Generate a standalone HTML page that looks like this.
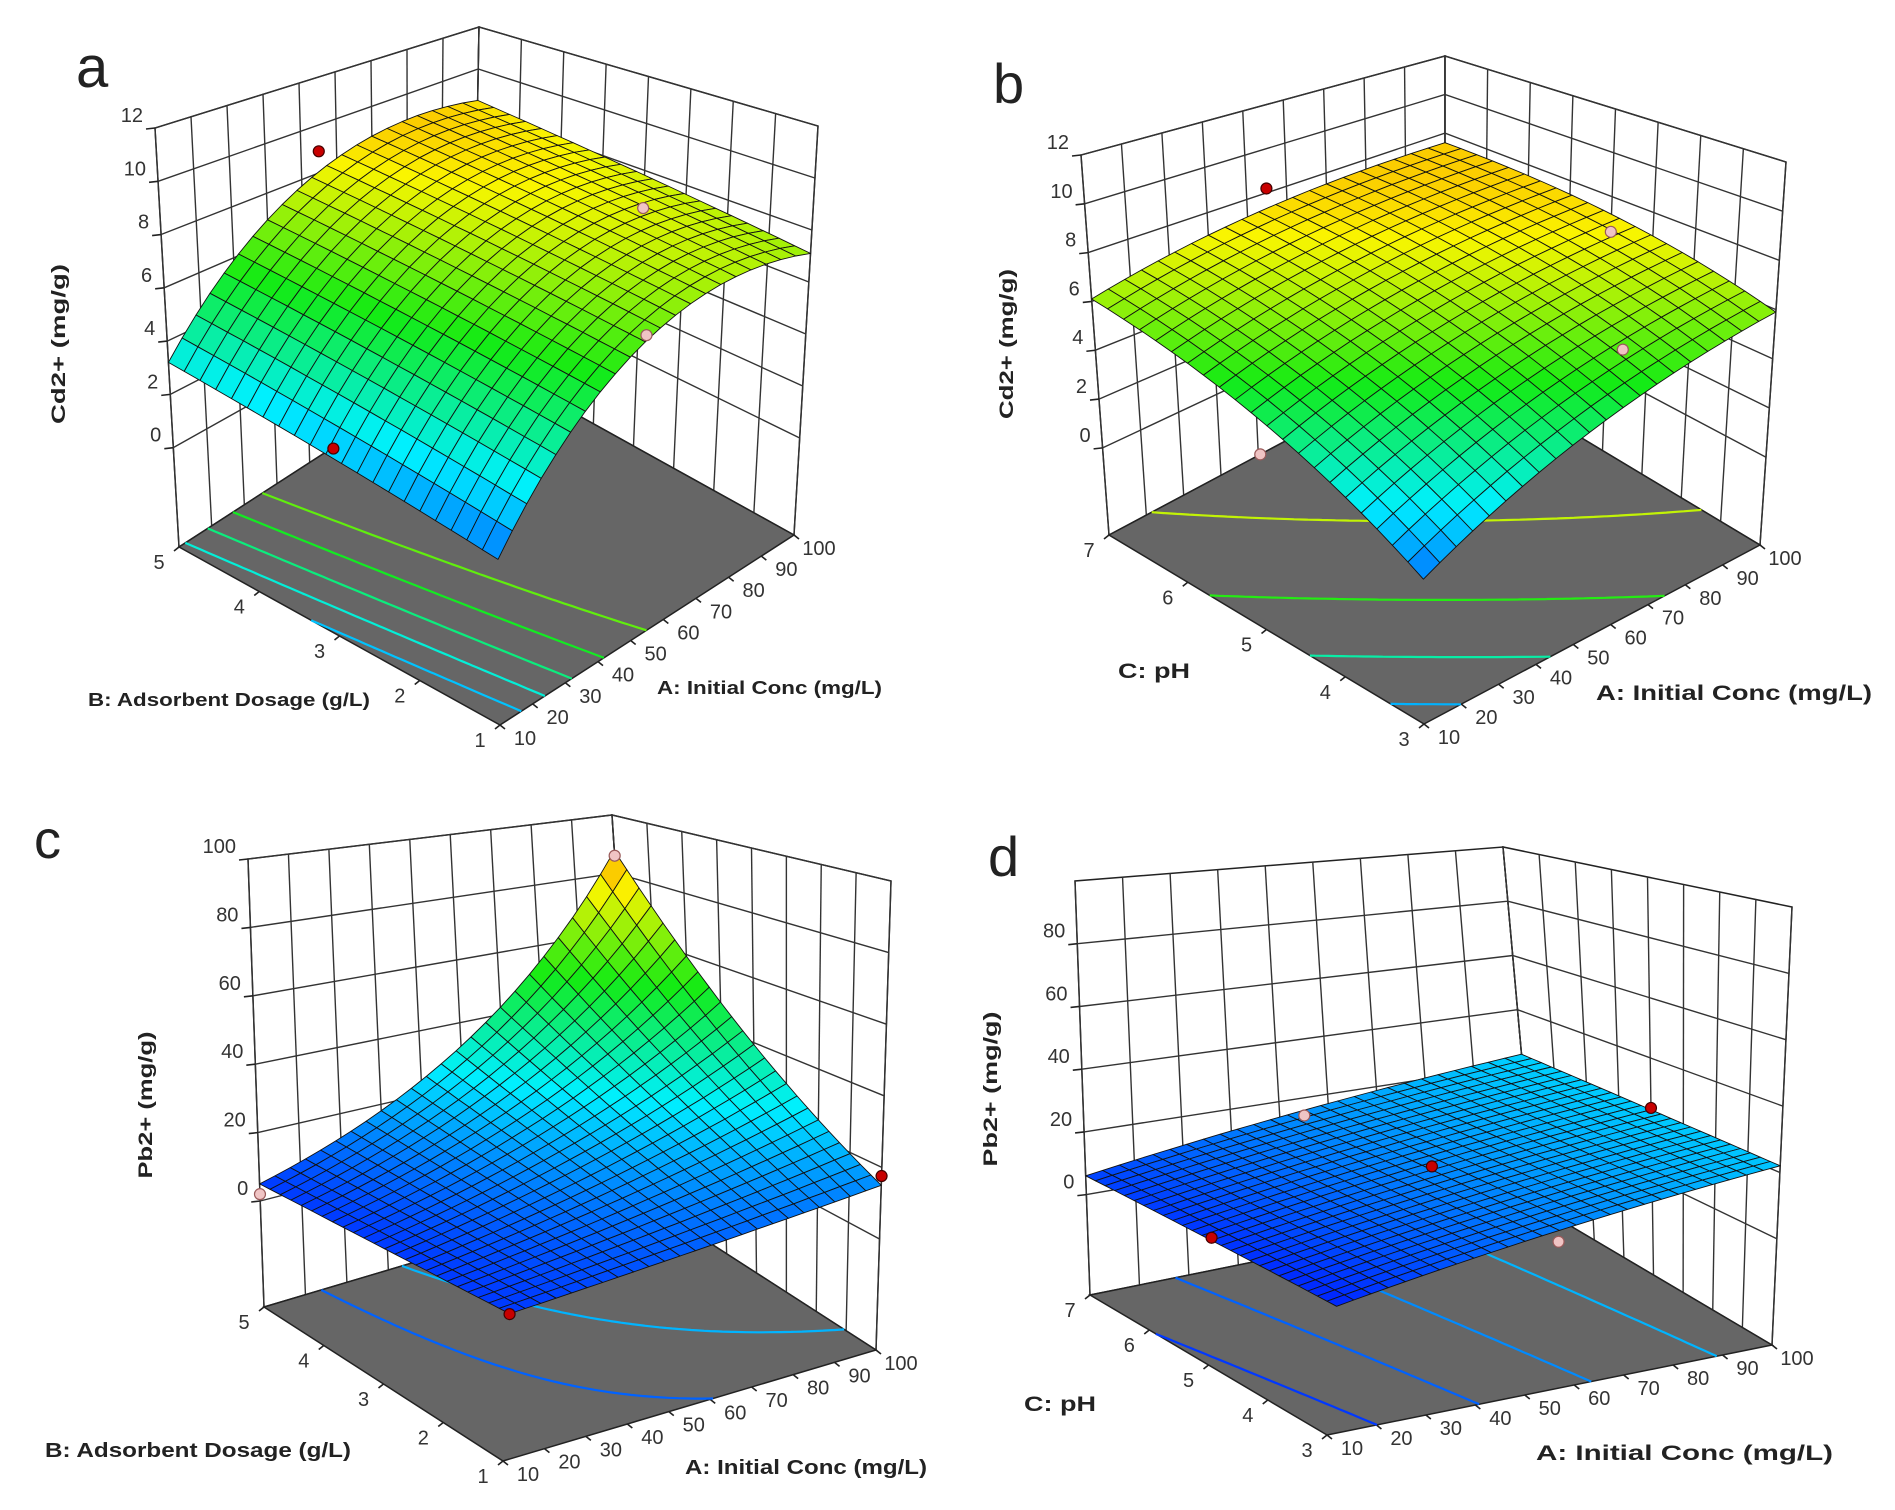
<!DOCTYPE html>
<html><head><meta charset="utf-8"><title>Response surface plots</title>
<style>
html,body{margin:0;padding:0;background:#fff;}
svg{display:block;font-family:"Liberation Sans",Arial,sans-serif;}
</style></head>
<body>
<svg id="chart" xmlns="http://www.w3.org/2000/svg" width="1895" height="1510" viewBox="0 0 1895 1510">
<rect x="0" y="0" width="1895" height="1510" fill="#fff"/>
<g id="layer"></g>
<g fill="#222">
<text x="76" y="87" font-size="58">a</text>
<text x="993" y="103" font-size="56">b</text>
<text x="34" y="858" font-size="54">c</text>
<text x="988" y="876" font-size="56">d</text>

<text transform="translate(65,344) rotate(-90)" text-anchor="middle" font-size="19" font-weight="bold" textLength="160" lengthAdjust="spacingAndGlyphs">Cd2+ (mg/g)</text>
<text x="88" y="706" font-size="18" font-weight="bold" textLength="282" lengthAdjust="spacingAndGlyphs">B: Adsorbent Dosage (g/L)</text>
<text x="657" y="694" font-size="18" font-weight="bold" textLength="225" lengthAdjust="spacingAndGlyphs">A: Initial Conc (mg/L)</text>

<text transform="translate(1013,344) rotate(-90)" text-anchor="middle" font-size="19" font-weight="bold" textLength="150" lengthAdjust="spacingAndGlyphs">Cd2+ (mg/g)</text>
<text x="1118" y="678" font-size="21" font-weight="bold" textLength="72" lengthAdjust="spacingAndGlyphs">C: pH</text>
<text x="1596" y="700" font-size="21" font-weight="bold" textLength="276" lengthAdjust="spacingAndGlyphs">A: Initial Conc (mg/L)</text>

<text transform="translate(152,1105) rotate(-90)" text-anchor="middle" font-size="19" font-weight="bold" textLength="147" lengthAdjust="spacingAndGlyphs">Pb2+ (mg/g)</text>
<text x="45" y="1457" font-size="20" font-weight="bold" textLength="306" lengthAdjust="spacingAndGlyphs">B: Adsorbent Dosage (g/L)</text>
<text x="685" y="1474" font-size="20" font-weight="bold" textLength="242" lengthAdjust="spacingAndGlyphs">A: Initial Conc (mg/L)</text>

<text transform="translate(997,1089) rotate(-90)" text-anchor="middle" font-size="19" font-weight="bold" textLength="155" lengthAdjust="spacingAndGlyphs">Pb2+ (mg/g)</text>
<text x="1024" y="1411" font-size="21" font-weight="bold" textLength="72" lengthAdjust="spacingAndGlyphs">C: pH</text>
<text x="1536" y="1460" font-size="21" font-weight="bold" textLength="297" lengthAdjust="spacingAndGlyphs">A: Initial Conc (mg/L)</text>
</g>
</svg>
<script>
// ---------- data: model coefficients [b0, bA, bB, bAB, bAA, bBB] in coded units ----------
const aCoef = [7.285, 2.725, 0.775, -0.075, -2.21, 0];
const bCoef = [6.2, 1.5, 1.6, -0.8, -0.5, -0.5];
const cCoef = [1.435, 0.259, 0.148, 0.148, 0, 0];   // log10 scale
const cLogOffset = [10];
const dCoef = [14.5, 9.3, 1.3, -0.5, -1, 0];

// design points
const aDesignA = [55, 100, 90, 10];
const aDesignB = [5, 3, 2.5, 3];
const aDesignZ = [8.9, 6.4, 2.5, 2.7];
const bDesignA = [55, 100, 100, 10];
const bDesignC = [7, 5, 4.8, 5];
const bDesignZ = [8.2, 6.4, 1.4, 2.9];
const cDesignA = [100, 100, 10, 10];
const cDesignB = [5, 1, 1, 5];
const cDesignZ = [86, 17.6, 4.9, 2];
const dDesignA = [55, 55, 100, 10, 55];
const dDesignC = [5, 7, 5, 5, 3];
const dDesignZ = [15.6, 14, 23.4, 5, 10];

// tick labels
const concTicks = [10, 20, 30, 40, 50, 60, 70, 80, 90, 100];
const dosageTicks = [1, 2, 3, 4, 5];
const phTicks = [3, 4, 5, 6, 7];
const cdZTicks = [0, 2, 4, 6, 8, 10, 12];
const pbZTicksC = [0, 20, 40, 60, 80, 100];
const pbZTicksD = [0, 20, 40, 60, 80];
const aContourLevels = [2.5, 3.5, 4.5, 5.5, 6.5];
const bContourLevels = [2, 3.5, 5, 6.5];
const cContourLevels = [10, 20];
const dContourLevels = [5, 10, 15, 20];

// ---------- geometry ----------
const NS = 'http://www.w3.org/2000/svg';
const layer = document.getElementById('layer');
function mk(tag, attrs, parent) {
  const e = document.createElementNS(NS, tag);
  for (const k in attrs) e.setAttribute(k, attrs[k]);
  parent.appendChild(e);
  return e;
}
function cmap(t) {
  t = Math.max(0, Math.min(1, t));
  const s = [[0, 0, 40, 255], [0.25, 0, 240, 255], [0.5, 20, 235, 20], [0.75, 250, 245, 0], [1, 255, 70, 0]];
  for (let i = 0; i < s.length - 1; i++) {
    if (t <= s[i + 1][0]) {
      const f = (t - s[i][0]) / (s[i + 1][0] - s[i][0]);
      const c = [1, 2, 3].map(k => Math.round(s[i][k] + f * (s[i + 1][k] - s[i][k])));
      return 'rgb(' + c.join(',') + ')';
    }
  }
  return 'rgb(255,70,0)';
}

function drawPanel(cfg) {
  const g = mk('g', {}, layer);
  
  
  const P = (u, v, z) => {
    const fx = cfg.F00[0] + u * (cfg.F10[0] - cfg.F00[0]) + v * (cfg.F01[0] - cfg.F00[0]);
    const fy = cfg.F00[1] + u * (cfg.F10[1] - cfg.F00[1]) + v * (cfg.F01[1] - cfg.F00[1]);
    const tx = cfg.T00[0] + u * (cfg.T10[0] - cfg.T00[0]) + v * (cfg.T01[0] - cfg.T00[0]);
    const ty = cfg.T00[1] + u * (cfg.T10[1] - cfg.T00[1]) + v * (cfg.T01[1] - cfg.T00[1]);
    const t = (z - cfg.zf) / (cfg.zt - cfg.zf);
    return [fx + t * (tx - fx), fy + t * (ty - fy)];
  };
  const uOf = A => (A - 10) / 90;
  const vOf = B => (B - cfg.bMin) / (cfg.bMax - cfg.bMin);
  const model = (u, v) => {
    const x = 2 * u - 1, y = 2 * v - 1, c = cfg.coef;
    const p = c[0] + c[1] * x + c[2] * y + c[3] * x * y + c[4] * x * x + c[5] * y * y;
    return cfg.logOffset != null ? Math.pow(10, p) - cfg.logOffset : p;
  };
  const pts = a => a.map(p => p[0].toFixed(1) + ',' + p[1].toFixed(1)).join(' ');
  const zf = cfg.zf, zt = cfg.zt;

  // walls
  const wl = mk('polygon', {points: pts([P(0,1,zf), P(1,1,zf), P(1,1,zt), P(0,1,zt)]), fill: '#fff', stroke: '#222', 'stroke-width': 1.5}, g);
  
  
  const wr = mk('polygon', {points: pts([P(1,0,zf), P(1,1,zf), P(1,1,zt), P(1,0,zt)]), fill: '#fff', stroke: '#222', 'stroke-width': 1.5}, g);
  
  
  const grid = mk('g', {stroke: '#333', 'stroke-width': 1.4}, g);
  
  
  concTicks.forEach(A => {
    const a = P(uOf(A), 1, zf), b = P(uOf(A), 1, zt);
    mk('line', {x1: a[0], y1: a[1], x2: b[0], y2: b[1]}, grid);
  });
  for (let B = cfg.bMin; B <= cfg.bMax + 1e-9; B += 0.5) {
    const a = P(1, vOf(B), zf), b = P(1, vOf(B), zt);
    mk('line', {x1: a[0], y1: a[1], x2: b[0], y2: b[1]}, grid);
  }
  cfg.zTicks.forEach(z => {
    const a = P(0, 1, z), b = P(1, 1, z), c = P(1, 0, z);
    mk('polyline', {points: pts([a, b, c]), fill: 'none'}, grid);
    mk('line', {x1: a[0], y1: a[1], x2: a[0] - 9, y2: a[1] + 1, stroke: '#222', 'stroke-width': 1.6}, grid);
    const lab = mk('text', {x: a[0] - 12, y: a[1] - 6, 'text-anchor': 'end', 'font-size': 20, fill: '#333', stroke: 'none'}, g);
    lab.textContent = z;
    
    
  });

  // floor
  const fl = mk('polygon', {points: pts([P(0,0,zf), P(1,0,zf), P(1,1,zf), P(0,1,zf)]), fill: '#666', stroke: '#222', 'stroke-width': 1.5}, g);
  
  

  // floor ticks & labels
  concTicks.forEach(A => {
    const p = P(uOf(A), 0, zf);
    mk('line', {x1: p[0], y1: p[1], x2: p[0] + 5, y2: p[1] + 4, stroke: '#222', 'stroke-width': 1.6}, g);
    const t = mk('text', {x: p[0] + 25, y: p[1] + 20, 'text-anchor': 'middle', 'font-size': 20, fill: '#333'}, g);
    t.textContent = A;
    
    
  });
  cfg.bTicks.forEach(B => {
    const p = P(0, vOf(B), zf);
    mk('line', {x1: p[0], y1: p[1], x2: p[0] - 5, y2: p[1] + 4, stroke: '#222', 'stroke-width': 1.6}, g);
    const t = mk('text', {x: p[0] - 20, y: p[1] + 22, 'text-anchor': 'middle', 'font-size': 20, fill: '#333'}, g);
    t.textContent = B;
    
    
  });

  // contours (marching squares)
  const M = 48;
  const vals = [];
  for (let i = 0; i <= M; i++) { vals.push([]); for (let j = 0; j <= M; j++) vals[i].push(model(i / M, j / M)); }
  const cg = mk('g', {fill: 'none', 'stroke-width': 2.2}, g);
  
  
  cfg.levels.forEach(L => {
    let d = '';
    for (let i = 0; i < M; i++) for (let j = 0; j < M; j++) {
      const c = [[i, j], [i + 1, j], [i + 1, j + 1], [i, j + 1]];
      const cr = [];
      for (let k = 0; k < 4; k++) {
        const p = c[k], q = c[(k + 1) % 4];
        const a = vals[p[0]][p[1]] - L, b = vals[q[0]][q[1]] - L;
        if ((a < 0) !== (b < 0)) {
          const f = a / (a - b);
          cr.push(P((p[0] + f * (q[0] - p[0])) / M, (p[1] + f * (q[1] - p[1])) / M, zf));
        }
      }
      for (let k = 0; k + 1 < cr.length; k += 2)
        d += 'M' + cr[k][0].toFixed(1) + ',' + cr[k][1].toFixed(1) + 'L' + cr[k + 1][0].toFixed(1) + ',' + cr[k + 1][1].toFixed(1);
    }
    const path = mk('path', {d: d, stroke: cmap((L - cfg.cmin) / (cfg.cmax - cfg.cmin))}, cg);
    
    
  });

  // surface
  const N = cfg.N;
  const sg = mk('g', {stroke: '#111', 'stroke-width': 0.9, 'stroke-linejoin': 'round'}, g);
  
  
  const cells = [];
  for (let i = 0; i < N; i++) for (let j = 0; j < N; j++) cells.push([i, j]);
  cells.sort((p, q) => (q[0] + q[1]) - (p[0] + p[1]));
  cells.forEach(([i, j]) => {
    const u0 = i / N, u1 = (i + 1) / N, v0 = j / N, v1 = (j + 1) / N;
    const corners = [[u0, v0], [u1, v0], [u1, v1], [u0, v1]].map(([u, v]) => P(u, v, model(u, v)));
    const zc = model((u0 + u1) / 2, (v0 + v1) / 2);
    const q = mk('polygon', {points: pts(corners), fill: cmap((zc - cfg.cmin) / (cfg.cmax - cfg.cmin))}, sg);
    
    
  });

  // design points
  cfg.dA.forEach((A, k) => {
    const u = uOf(A), v = vOf(cfg.dB[k]), z = cfg.dZ[k];
    const p = P(u, v, z);
    const below = z < model(u, v) - 0.5;
    const dot = mk('circle', {cx: p[0], cy: p[1], r: 5.5, fill: below ? '#f0c4c4' : '#c80000', stroke: below ? '#9a5a5a' : '#400', 'stroke-width': 1.2}, g);
    
    
  });
}

drawPanel({id: 'a', F00: [500, 725], F10: [794, 535], F01: [179, 547], T00: [494, 227], T10: [818, 126], T01: [155, 128],
  zf: -3.73, zt: 12, bMin: 1, bMax: 5, bTicks: dosageTicks, zTicks: cdZTicks, coef: aCoef, cmin: 0.5, cmax: 10.8,
  levels: aContourLevels, N: 21, dA: aDesignA, dB: aDesignB, dZ: aDesignZ});
drawPanel({id: 'b', F00: [1424, 724], F10: [1760, 545], F01: [1109, 535], T00: [1422, 261], T10: [1786, 162], T01: [1081, 155],
  zf: -3.57, zt: 12, bMin: 3, bMax: 7, bTicks: phTicks, zTicks: cdZTicks, coef: bCoef, cmin: 0.5, cmax: 9.2,
  levels: bContourLevels, N: 21, dA: bDesignA, dB: bDesignC, dZ: bDesignZ});
drawPanel({id: 'c', F00: [503, 1461], F10: [876, 1350], F01: [264, 1307], T00: [527, 925], T10: [891, 881], T01: [248, 859],
  zf: -31, zt: 100, bMin: 1, bMax: 5, bTicks: dosageTicks, zTicks: pbZTicksC, coef: cCoef, logOffset: cLogOffset[0], cmin: 3, cmax: 100,
  levels: cContourLevels, N: 24, dA: cDesignA, dB: cDesignB, dZ: cDesignZ});
drawPanel({id: 'd', F00: [1327, 1435], F10: [1772, 1345], F01: [1090, 1295], T00: [1364, 941], T10: [1792, 907], T01: [1075, 881],
  zf: -32, zt: 100, bMin: 3, bMax: 7, bTicks: phTicks, zTicks: pbZTicksD, coef: dCoef, cmin: 3, cmax: 100,
  levels: dContourLevels, N: 26, dA: dDesignA, dB: dDesignC, dZ: dDesignZ});
</script>
</body></html>
